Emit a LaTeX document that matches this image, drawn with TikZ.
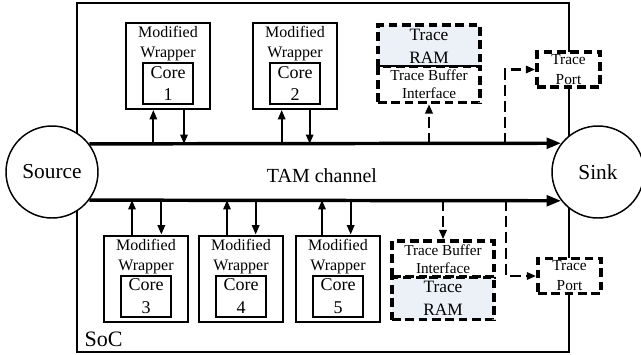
\documentclass[tikz,border=0pt]{standalone}
\usepackage{fontspec}
\setmainfont{Liberation Serif}
\usepackage{xcolor}
\usetikzlibrary{arrows.meta,calc,positioning}

\begin{document}
\begin{tikzpicture}[x=0.75pt,y=0.75pt,yscale=-1,xscale=1,
  socbox/.style={draw,line width=1.1pt,minimum width=369pt,minimum height=261.75pt,inner sep=0pt},
  wrapbox/.style={draw,line width=1.5pt,fill=white,minimum width=63pt,minimum height=64.5pt,inner sep=0pt},
  wraptext/.style={anchor=north,inner sep=0pt,align=center,font=\fontsize{12}{15}\selectfont},
  corebox/.style={draw,line width=1.5pt,fill=white,minimum width=37.5pt,minimum height=30.75pt,inner sep=0pt,align=center,font=\fontsize{13.5}{17}\selectfont},
  endpoint/.style={draw,circle,line width=1.1pt,fill=white,minimum size=69pt,inner sep=0pt,font=\fontsize{16}{19}\selectfont},
  rambox/.style={draw,dash pattern=on 6.5pt off 3.5pt,line width=2.6pt,fill={rgb, 255:red, 236; green, 241; blue, 248},minimum width=76.5pt,minimum height=31.5pt,inner sep=0pt,align=center,font=\fontsize{13}{17}\selectfont},
  tbibox/.style={draw,dash pattern=on 6.5pt off 3.5pt,line width=2.6pt,fill=white,minimum width=76.5pt,minimum height=27pt,inner sep=0pt,align=center,font=\fontsize{11.4}{13.5}\selectfont},
  portbox/.style={draw,dash pattern=on 6.5pt off 3.5pt,line width=2.6pt,fill=white,minimum width=47.5pt,minimum height=26.5pt,inner sep=0pt,align=center,font=\fontsize{11.5}{15}\selectfont},
  tam/.style={line width=2.6pt,-{Triangle[length=11pt,width=8pt]}},
  link/.style={line width=1.5pt,-{Triangle[length=7pt,width=5.5pt]}},
  dlink/.style={link,line width=1.9pt,dash pattern=on 8pt off 4pt}
  ]
  \useasboundingbox (0,0) rectangle (641,354);

  %SoC frame
  \node[socbox] (soc) at (323,177.5) {};
  \node[anchor=base west,inner sep=0pt,font=\fontsize{16.5}{18}\selectfont] (soclbl) at ($(soc.south west)+(8,-6)$) {SoC};

  %Source and sink
  \node[endpoint] (src) at (52,172) {Source};
  \node[endpoint] (snk) at (598,172) {Sink};

  %TAM
  \coordinate (tamT) at (src.37.5);
  \coordinate (tamB) at (src.-37.5);
  \draw[tam] (tamT) -- (snk.142.5);
  \draw[tam] (tamB) -- (snk.-142.5);
  \node[inner sep=0pt,font=\fontsize{15}{18}\selectfont] (tamlbl) at (322,176) {TAM channel};

  %Upper wrappers
  \node[wrapbox] (w1) at (168,66) {};
  \node[wraptext] (w1t) at ($(w1.north)+(0,4)$) {Modified\\Wrapper};
  \node[corebox] (c1) at (168,83.5) {Core\\1};
  \node[wrapbox] (w2) at (295,66) {};
  \node[wraptext] (w2t) at ($(w2.north)+(0,4)$) {Modified\\Wrapper};
  \node[corebox] (c2) at (295,83.5) {Core\\2};

  %Lower wrappers
  \node[wrapbox] (w3) at (146,278.5) {};
  \node[wraptext] (w3t) at ($(w3.north)+(0,4)$) {Modified\\Wrapper};
  \node[corebox] (c3) at (146,296) {Core\\3};
  \node[wrapbox] (w4) at (241,278.5) {};
  \node[wraptext] (w4t) at ($(w4.north)+(0,4)$) {Modified\\Wrapper};
  \node[corebox] (c4) at (241,296) {Core\\4};
  \node[wrapbox] (w5) at (338,278.5) {};
  \node[wraptext] (w5t) at ($(w5.north)+(0,4)$) {Modified\\Wrapper};
  \node[corebox] (c5) at (338,296) {Core\\5};

  %Wrapper links
  \draw[link] ([xshift=-11pt]w1.south |- tamT) -- ([xshift=-11pt]w1.south);
  \draw[link] ([xshift=12pt]w1.south) -- ([xshift=12pt]w1.south |- tamT);
  \draw[link] ([xshift=-10pt]w2.south |- tamT) -- ([xshift=-10pt]w2.south);
  \draw[link] ([xshift=11pt]w2.south) -- ([xshift=11pt]w2.south |- tamT);
  \draw[link] ([xshift=-10.5pt]w3.north) -- ([xshift=-10.5pt]w3.north |- tamB);
  \draw[link] ([xshift=11.5pt]w3.north |- tamB) -- ([xshift=11.5pt]w3.north);
  \draw[link] ([xshift=-10.5pt]w4.north) -- ([xshift=-10.5pt]w4.north |- tamB);
  \draw[link] ([xshift=11pt]w4.north |- tamB) -- ([xshift=11pt]w4.north);
  \draw[link] ([xshift=-12pt]w5.north) -- ([xshift=-12pt]w5.north |- tamB);
  \draw[link] ([xshift=9.5pt]w5.north |- tamB) -- ([xshift=9.5pt]w5.north);

  %Trace buffers
  \node[rambox] (ram1) at (429,46) {Trace\\RAM};
  \node[tbibox] (tbi1) at (429,84.5) {Trace Buffer\\Interface};
  \node[tbibox] (tbi2) at (443,259) {Trace Buffer\\Interface};
  \node[rambox] (ram2) at (443,298.5) {Trace\\RAM};

  %Trace ports
  \node[portbox] (port1) at (568.5,69.5) {Trace\\Port};
  \node[portbox] (port2) at (569.5,276) {Trace\\Port};

  %Trace links
  \draw[dlink] (tbi1.south |- tamT) -- (tbi1.south);
  \draw[dlink] (tbi2.north |- tamB) -- (tbi2.north);
  \draw[dlink] ([xshift=-22.5pt]port1.west |- tamT) |- (port1.west);
  \draw[dlink] ([xshift=-22.5pt]port2.west |- tamB) |- (port2.west);

\end{tikzpicture}
\end{document}
